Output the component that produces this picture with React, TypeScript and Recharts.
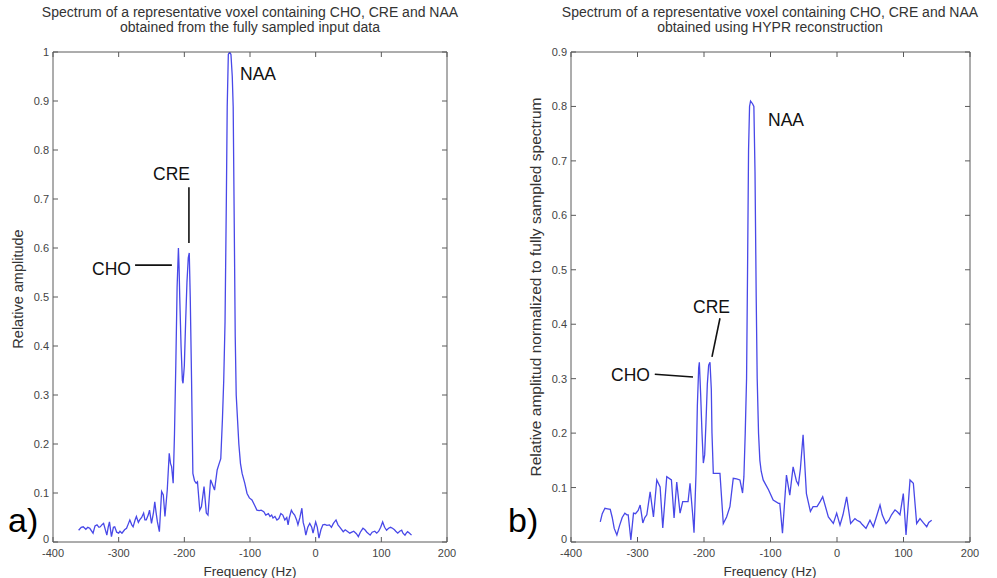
import React from "react";
import { LineChart, Line, XAxis, YAxis, ReferenceLine } from "recharts";

// panel a) fully sampled input data
const freqA = [
  -361, -357, -354, -350, -347, -344, -339, -336, -333, -330, -328, -325, -323, -318, -316, -314, -311, -308,
  -306, -303, -300, -298, -295, -291, -288, -285, -283, -280, -278, -275, -273, -270, -268, -265, -262, -260,
  -258, -255, -253, -250, -247, -245, -243, -241, -238, -236, -234.6, -232, -229.5, -226, -223, -221, -219.4,
  -217, -215, -213, -211, -209, -208, -207, -205, -203, -202, -200, -198, -196, -194, -192.5, -191, -189, -187,
  -184.5, -182, -180, -176.5, -174, -170, -166.5, -164, -160, -157, -154, -150, -147, -144.5, -142, -140, -138,
  -136, -134.7, -133, -131, -129, -127, -125.6, -124, -122.5, -121, -119, -117, -114.5, -112, -108, -104.5, -101,
  -97, -93, -89.5, -86, -83, -79, -76, -72, -69.5, -67, -65, -62, -59, -56, -53, -50, -47, -44, -42, -40, -37,
  -35, -32, -29, -27, -24, -21, -19, -17, -15, -12, -9, -6, -4, -2, 0, 2.5, 5, 8, 11, 14, 17, 21, 24, 27, 31, 34,
  37, 42, 45, 48, 52, 55, 58, 62, 65, 68, 72, 75, 78, 83, 86, 90, 93, 96, 99, 102, 105, 108, 111, 114, 117, 120,
  122, 125, 128, 131, 133, 136, 138, 140, 143, 146,
];
const ampA = [
  0.024, 0.03, 0.031, 0.026, 0.03, 0.028, 0.018, 0.033, 0.035, 0.03, 0.031, 0.036, 0.038, 0.014, 0.03, 0.041, 0.011, 0.03,
  0.031, 0.02, 0.018, 0.022, 0.018, 0.025, 0.028, 0.038, 0.045, 0.035, 0.031, 0.045, 0.052, 0.04, 0.045, 0.05, 0.059, 0.045,
  0.045, 0.055, 0.065, 0.038, 0.06, 0.082, 0.06, 0.041, 0.021, 0.07, 0.103, 0.096, 0.052, 0.106, 0.181, 0.16, 0.154,
  0.12, 0.22, 0.36, 0.52, 0.6, 0.56, 0.5, 0.4, 0.33, 0.324, 0.36, 0.45, 0.53, 0.58, 0.59, 0.5, 0.33, 0.14,
  0.125, 0.12, 0.123, 0.065, 0.072, 0.113, 0.059, 0.055, 0.127, 0.117, 0.106, 0.147, 0.16, 0.17, 0.25, 0.33, 0.45,
  0.7, 0.888, 0.995, 1.0, 0.995, 0.95, 0.888, 0.65, 0.42, 0.3, 0.25, 0.2, 0.16, 0.14, 0.12, 0.099, 0.09,
  0.086, 0.075, 0.065, 0.064, 0.065, 0.062, 0.055, 0.058, 0.052, 0.055, 0.049, 0.052, 0.045, 0.048, 0.058, 0.055, 0.045, 0.05, 0.035, 0.05, 0.065,
  0.06, 0.055, 0.045, 0.035, 0.05, 0.069, 0.04, 0.03, 0.014, 0.03, 0.038, 0.03, 0.018, 0.03, 0.041, 0.03, 0.008, 0.025, 0.035, 0.036, 0.034, 0.035, 0.03, 0.038, 0.045, 0.035,
  0.03, 0.021, 0.025, 0.022, 0.018, 0.02, 0.022, 0.017, 0.011, 0.02, 0.028, 0.025, 0.02, 0.014, 0.02, 0.022, 0.018, 0.022, 0.03, 0.041, 0.03, 0.024, 0.028, 0.03, 0.028, 0.025,
  0.022, 0.018, 0.022, 0.024, 0.018, 0.014, 0.018, 0.021, 0.018, 0.014,
];

// panel b) HYPR reconstruction
const freqB = [
  -356, -353, -349, -345, -341, -338, -335, -331, -327, -323, -319, -316, -314, -310, -306, -303, -299, -296, -292,
  -289, -286, -281, -276, -271, -266, -262, -256, -249, -245, -241, -236, -232, -224, -221, -217, -215, -212, -210,
  -208, -207, -205, -203, -201, -199, -197, -195, -193, -191, -189, -188, -186, -181, -176, -171, -166, -161, -156,
  -151, -146, -142, -140, -138, -136, -134.5, -133, -131.5, -130, -127, -125, -123.3, -121.5, -120, -118, -116, -114,
  -111, -107, -103, -96, -88, -86, -82, -76, -71, -66, -61, -58, -55, -51, -46, -40, -36, -30, -25, -21.5, -13, -5.5,
  -0.5, 4.5, 9, 14.5, 20.5, 27, 30, 34.6, 38, 43.6, 49.6, 54.6, 59, 64.7, 68, 73.7, 78, 82, 87.2, 91, 94.7, 99.7, 103.8,
  109.8, 114.8, 119.8, 124.8, 130, 134.9, 138, 142.4,
];
const ampB = [
  0.037, 0.052, 0.062, 0.061, 0.06, 0.045, 0.025, 0.013, 0.03, 0.045, 0.053, 0.05, 0.05, 0.004, 0.053, 0.052, 0.058, 0.068, 0.035,
  0.045, 0.05, 0.092, 0.046, 0.114, 0.101, 0.026, 0.12, 0.114, 0.044, 0.11, 0.053, 0.074, 0.074, 0.108, 0.05, 0.017, 0.126, 0.25,
  0.32, 0.33, 0.27, 0.2, 0.145, 0.16, 0.22, 0.29, 0.325, 0.33, 0.28, 0.2, 0.126, 0.126, 0.126, 0.034, 0.046, 0.065, 0.117,
  0.116, 0.114, 0.09, 0.12, 0.2, 0.3, 0.5, 0.72, 0.8, 0.81, 0.805, 0.8, 0.68, 0.45, 0.3, 0.2, 0.15, 0.13,
  0.114, 0.105, 0.096, 0.077, 0.071, 0.071, 0.016, 0.123, 0.086, 0.138, 0.112, 0.105, 0.135, 0.197, 0.089, 0.056, 0.065, 0.065, 0.075, 0.083, 0.046, 0.034,
  0.053, 0.031, 0.05, 0.083, 0.034, 0.043, 0.04, 0.037, 0.032, 0.025, 0.04, 0.028, 0.045, 0.068, 0.05, 0.034, 0.04, 0.05, 0.059, 0.055, 0.05, 0.089, 0.013,
  0.114, 0.108, 0.034, 0.043, 0.035, 0.028, 0.036, 0.04,
];

const xTicks = [-400, -300, -200, -100, 0, 100, 200];
const yTicksA = [0, 0.1, 0.2, 0.3, 0.4, 0.5, 0.6, 0.7, 0.8, 0.9, 1];
const yTicksB = [0, 0.1, 0.2, 0.3, 0.4, 0.5, 0.6, 0.7, 0.8, 0.9];

// pointer lines next to the peak names, in data units [f, v]
const pointersA = [
  [[-275, 0.565], [-219, 0.565]],
  [[-193, 0.724], [-193, 0.61]],
];
const pointersB = [
  [[-274, 0.308], [-216.5, 0.303]],
  [[-176, 0.411], [-188, 0.34]],
];

const FONT = '"Liberation Sans", Arial, Helvetica, sans-serif';
const AXIS = "#5a5a5a";
const TICKTXT = "#444";
const BLUE = "#4848e8";
const TL = 5;

const BottomTick = (p: any) => (
  <g>
    <line x1={p.x} y1={p.y} x2={p.x} y2={p.y - TL} stroke={AXIS} />
    <text x={p.x} y={p.y + 15} textAnchor="middle" fontSize={11} fontFamily={FONT} fill={TICKTXT}>
      {p.payload.value}
    </text>
  </g>
);
const TopTick = (p: any) => <line x1={p.x} y1={p.y} x2={p.x} y2={p.y + TL} stroke={AXIS} />;
const LeftTick = (p: any) => (
  <g>
    <line x1={p.x} y1={p.y} x2={p.x + TL} y2={p.y} stroke={AXIS} />
    <text
      x={p.x - 4}
      y={p.y + (p.payload.value === 0 ? 1 : 4)}
      textAnchor="end"
      fontSize={11}
      fontFamily={FONT}
      fill={TICKTXT}
    >
      {p.payload.value}
    </text>
  </g>
);
const RightTick = (p: any) => <line x1={p.x} y1={p.y} x2={p.x - TL} y2={p.y} stroke={AXIS} />;

function Panel(props: {
  freq: number[];
  amp: number[];
  yMax: number;
  yTicks: number[];
  pointers: number[][][];
  width: number;
  margin: { top: number; right: number; bottom: number; left: number };
}) {
  const rows = props.freq.map((f, i) => ({ f, v: props.amp[i] }));
  return (
    <LineChart width={props.width} height={578} data={rows} margin={props.margin}>
      <XAxis
        xAxisId="b"
        dataKey="f"
        type="number"
        domain={[-400, 200]}
        ticks={xTicks}
        interval={0}
        height={10}
        tickSize={0}
        tickMargin={0}
        tickLine={false}
        axisLine={{ stroke: AXIS }}
        tick={BottomTick}
        allowDataOverflow
      />
      <XAxis
        xAxisId="t"
        orientation="top"
        dataKey="f"
        type="number"
        domain={[-400, 200]}
        ticks={xTicks}
        interval={0}
        height={10}
        tickSize={0}
        tickMargin={0}
        tickLine={false}
        axisLine={{ stroke: AXIS }}
        tick={TopTick}
        allowDataOverflow
      />
      <YAxis
        yAxisId="l"
        type="number"
        domain={[0, props.yMax]}
        ticks={props.yTicks}
        interval={0}
        width={10}
        tickSize={0}
        tickMargin={0}
        tickLine={false}
        axisLine={{ stroke: AXIS }}
        tick={LeftTick}
        allowDataOverflow
      />
      <YAxis
        yAxisId="r"
        orientation="right"
        type="number"
        domain={[0, props.yMax]}
        ticks={props.yTicks}
        interval={0}
        width={10}
        tickSize={0}
        tickMargin={0}
        tickLine={false}
        axisLine={{ stroke: AXIS }}
        tick={RightTick}
        allowDataOverflow
      />
      <Line
        xAxisId="t"
        yAxisId="r"
        dataKey="v"
        stroke="none"
        dot={false}
        activeDot={false}
        isAnimationActive={false}
      />
      <Line
        xAxisId="b"
        yAxisId="l"
        dataKey="v"
        type="linear"
        stroke={BLUE}
        strokeWidth={1.3}
        dot={false}
        activeDot={false}
        isAnimationActive={false}
      />
      {props.pointers.map((seg, i) => (
        <ReferenceLine
          key={i}
          xAxisId="b"
          yAxisId="l"
          segment={[
            { x: seg[0][0], y: seg[0][1] },
            { x: seg[1][0], y: seg[1][1] },
          ]}
          stroke="#111"
          strokeWidth={1.6}
          ifOverflow="visible"
        />
      ))}
    </LineChart>
  );
}

export default function App() {
  const title = { fontFamily: FONT, fontSize: 14, fill: "#333", textAnchor: "middle" as const };
  const label = { fontFamily: FONT, fontSize: 13.5, fill: "#333", textAnchor: "middle" as const };
  const note = { fontFamily: FONT, fontSize: 17.5, fill: "#111" };
  return (
    <div
      style={{
        position: "absolute",
        left: 0,
        top: 0,
        width: 997,
        height: 578,
        background: "#fff",
        overflow: "hidden",
      }}
    >
      <div style={{ position: "absolute", left: 0, top: 0 }}>
        <Panel
          freq={freqA}
          amp={ampA}
          yMax={1}
          yTicks={yTicksA}
          pointers={pointersA}
          width={500}
          margin={{ top: 42, right: 43, bottom: 26, left: 43 }}
        />
      </div>
      <div style={{ position: "absolute", left: 500, top: 0 }}>
        <Panel
          freq={freqB}
          amp={ampB}
          yMax={0.9}
          yTicks={yTicksB}
          pointers={pointersB}
          width={497}
          margin={{ top: 42, right: 17, bottom: 26, left: 61 }}
        />
      </div>
      <svg
        width={997}
        height={578}
        style={{ position: "absolute", left: 0, top: 0, pointerEvents: "none" }}
      >
        <text x={250} y={17} {...title}>Spectrum of a representative voxel containing CHO, CRE and NAA</text>
        <text x={250} y={32} {...title}>obtained from the fully sampled input data</text>
        <text x={770} y={17} {...title}>Spectrum of a representative voxel containing CHO, CRE and NAA</text>
        <text x={770} y={32} {...title}>obtained using HYPR reconstruction</text>

        <text x={250} y={576} {...label}>Frequency (Hz)</text>
        <text x={770} y={576} {...label}>Frequency (Hz)</text>
        <text transform="translate(23,289) rotate(-90)" {...label} fontSize={14.5}>Relative amplitude</text>
        <text transform="translate(541,287) rotate(-90)" {...label} fontSize={15.5}>
          Relative amplitud normalized to fully sampled spectrum
        </text>

        <text x={92} y={275} {...note}>CHO</text>
        <text x={153} y={180} {...note}>CRE</text>
        <text x={240} y={80} {...note}>NAA</text>
        <text x={611} y={381} {...note}>CHO</text>
        <text x={693} y={313} {...note}>CRE</text>
        <text x={768} y={126} {...note}>NAA</text>

        <text x={8} y={532} fontFamily={FONT} fontSize={34} fill="#000">a)</text>
        <text x={508} y={532} fontFamily={FONT} fontSize={34} fill="#000">b)</text>
      </svg>
    </div>
  );
}
